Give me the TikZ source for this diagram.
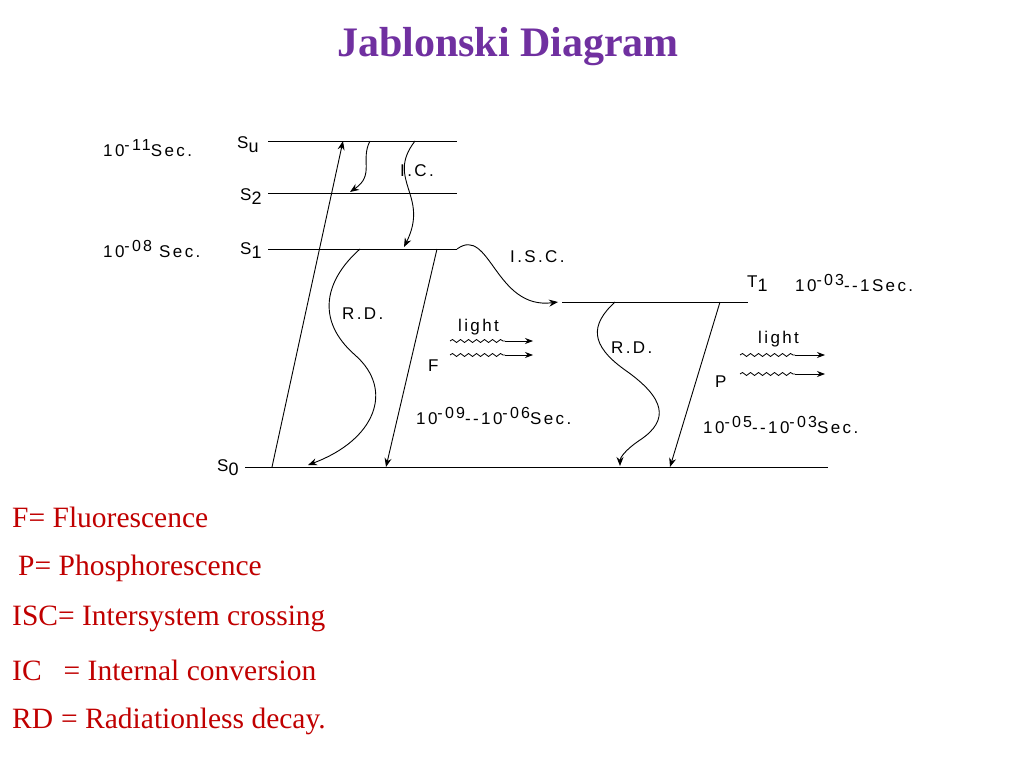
\documentclass[tikz,border=0pt]{standalone}
\usepackage{fontspec}
\setmainfont{Liberation Serif}
\newfontfamily\lab[LetterSpace=14]{Liberation Sans}
\usetikzlibrary{arrows.meta,decorations.pathmorphing}
\definecolor{ttl}{HTML}{7030A0}
\definecolor{leg}{HTML}{C00000}
\newcommand{\sps}[1]{\raisebox{6pt}{\fontsize{16}{16}\selectfont #1}}
\newcommand{\sbs}[1]{\raisebox{-4pt}{\fontsize{18}{18}\selectfont #1}}
\begin{document}
\begin{tikzpicture}[x=1pt,y=-1pt,
 lvl/.style={line width=0.9pt},
 arr/.style={line width=0.9pt,-{Stealth[length=9pt,width=7pt]}},
 lb/.style={font=\lab\fontsize{17}{17}\selectfont,inner sep=0pt,anchor=west},
 lg/.style={font=\fontsize{29.5}{29.5}\selectfont,text=leg,inner sep=0pt,anchor=west},
 wv/.style={decorate,decoration={snake,amplitude=1.5pt,segment length=8pt},line width=0.8pt},
 sh/.style={line width=0.8pt,-{Stealth[length=8pt,width=6pt]}}]
\useasboundingbox (0,0) rectangle (1024,768);
\node[font=\bfseries\fontsize{42}{42}\selectfont,text=ttl] (title) at (508,47) {Jablonski Diagram};
% levels
\coordinate (su1) at (268,141); \coordinate (su2) at (457,141);
\coordinate (s21) at (268,193); \coordinate (s22) at (457,193);
\coordinate (s11) at (268,249); \coordinate (s12) at (457,249);
\coordinate (t11) at (562,302); \coordinate (t12) at (748,302);
\coordinate (s01) at (245,467); \coordinate (s02) at (828,467);
\draw[lvl] (su1)--(su2); \draw[lvl] (s21)--(s22); \draw[lvl] (s11)--(s12);
\draw[lvl] (t11)--(t12); \draw[lvl] (s01)--(s02);
% labels
\node[lb] (l1) at (103,148) {10\sps{-11}Sec.};
\node[lb] (lsu) at (237,145) {S\sbs{u}};
\node[lb] (ls2) at (240,197) {S\sbs{2}};
\node[lb] (l2) at (103,249) {10\sps{-08} Sec.};
\node[lb] (ls1) at (240,251) {S\sbs{1}};
\node[lb] (lt1) at (747,284) {T\sbs{1}};
\node[lb] (l3) at (795,283) {10\sps{-03}--1Sec.};
\node[lb] (ic) at (400,171) {I.C.};
\node[lb] (isc) at (510,257) {I.S.C.};
\node[lb] (rd1) at (342,314) {R.D.};
\node[lb] (lt) at (458,327) {light};
\node[lb] (f) at (428,366) {F};
\node[lb] (rd2) at (611,348) {R.D.};
\node[lb] (lt2) at (758,339) {light};
\node[lb] (p) at (715,382) {P};
\node[lb] (t4) at (416,416) {10\sps{-09}--10\sps{-06}Sec.};
\node[lb] (t5) at (703,425) {10\sps{-05}--10\sps{-03}Sec.};
\node[lb] (ls0) at (217,468) {S\sbs{0}};
% straight arrows
\coordinate (a1) at (272,467); \coordinate (a2) at (343,141);
\draw[arr] (a1)--(a2);
\coordinate (b1) at (437,249); \coordinate (b2) at (386,467);
\draw[arr] (b1)--(b2);
\coordinate (c1) at (720,302); \coordinate (c2) at (670,467);
\draw[arr] (c1)--(c2);
% curved arrows
\draw[arr] (370,141) .. controls (360,160) and (375,175) .. (350,192);
\draw[arr] (415,141) .. controls (385,180) and (430,195) .. (404,247);
\draw[arr] (457,249) .. controls (490,225) and (495,310) .. (558,302);
\draw[arr] (360,249) .. controls (325,280) and (315,320) .. (355,355) .. controls (395,390) and (375,440) .. (308,465);
\draw[arr] (615,302) .. controls (590,325) and (590,345) .. (625,370) .. controls (665,398) and (670,420) .. (640,440) .. controls (625,450) and (620,458) .. (620,466);
% light arrows
\draw[wv] (450,341)--(505,341); \draw[sh] (505,341)--(533,341);
\draw[wv] (450,355)--(505,355); \draw[sh] (505,355)--(533,355);
\draw[wv] (740,355)--(795,355); \draw[sh] (795,355)--(825,355);
\draw[wv] (740,374)--(795,374); \draw[sh] (795,374)--(825,374);
% legend
\node[lg] (g1) at (12,517) {F= Fluorescence};
\node[lg] (g2) at (18,568) {P= Phosphorescence};
\node[lg] (g3) at (12,619) {ISC= Intersystem crossing};
\node[lg] (g4) at (12,670) {IC\hspace{22pt}= Internal conversion};
\node[lg] (g5) at (12,721) {RD\hspace{8pt}= Radiationless decay.};
\end{tikzpicture}
\end{document}
